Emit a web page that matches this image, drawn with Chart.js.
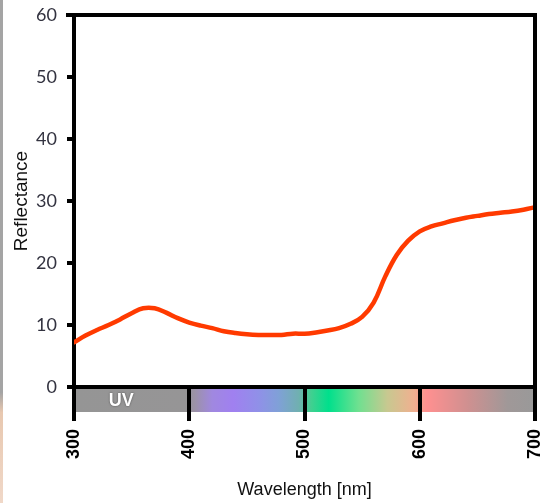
<!DOCTYPE html>
<html>
<head>
<meta charset="utf-8">
<script src="https://cdn.jsdelivr.net/npm/chart.js@4"></script>
<style>
  html, body { margin: 0; padding: 0; background: #fff; }
  #wrap { position: relative; width: 552px; height: 503px; }
  #edge { position: absolute; left: 0; top: 0; width: 3px; height: 503px;
          background: linear-gradient(#a4a4a4 0%, #a4a4a4 78%, #e8c8b0 82%, #f0d8c8 100%); }
</style>
</head>
<body>
<div id="wrap">
  <canvas id="reflectanceChart" width="552" height="503"></canvas>
  <div id="edge"></div>
</div>
<script>
// Wavelengths (nm) and reflectance
const wavelengths = [300, 310, 320, 330, 340, 350, 360, 370, 380, 390,
                     400, 410, 420, 430, 440, 450, 460, 470, 480, 490,
                     500, 510, 520, 530, 540, 550, 560, 570, 580, 590,
                     600, 610, 620, 630, 640, 650, 660, 670, 680, 690, 700];
const reflectance = [7.2, 8.3, 9.2, 10.0, 10.9, 11.9, 12.7, 12.7, 12.0, 11.1,
                     10.4, 9.9, 9.5, 9.0, 8.7, 8.5, 8.4, 8.4, 8.4, 8.6,
                     8.6, 8.8, 9.1, 9.5, 10.2, 11.3, 13.6, 17.8, 21.3, 23.6,
                     25.1, 25.9, 26.4, 26.9, 27.3, 27.6, 27.9, 28.1, 28.3, 28.6, 29.0];

const xTicks = [300, 400, 500, 600, 700];
const yTicks = [0, 10, 20, 30, 40, 50, 60];

// colour band under the axis: wavelength -> colour
const bandStops = [300, 398, 405, 420, 438, 460, 477, 495, 506, 521, 547, 572, 595, 606, 641, 676, 700];
const bandColors = ['#959595', '#969596', '#9c92a8', '#a088e0', '#a080f0', '#9090e8', '#80a0d8',
                    '#70b0b0', '#40d090', '#00e08c', '#70e090', '#c8c890', '#f0b090', '#ff9090',
                    '#d09090', '#a09898', '#999999'];
const bandLabel = 'UV';
const bandLabelAt = 341;

// frame + spectrum band
const framePlugin = {
    id: 'frame',
    beforeDraw(chart) {
        const ctx = chart.ctx;
        const xs = chart.scales.x;
        const x0 = xs.getPixelForValue(300);
        const x1 = xs.getPixelForValue(700);
        const top = chart.chartArea.bottom;
        const grad = ctx.createLinearGradient(x0, 0, x1, 0);
        bandStops.forEach((w, i) => {
            grad.addColorStop((w - 300) / 400, bandColors[i]);
        });
        ctx.save();
        ctx.fillStyle = grad;
        ctx.fillRect(x0, top, x1 - x0, 412 - top);
        ctx.restore();
    },
    afterDraw(chart) {
        const ctx = chart.ctx;
        const area = chart.chartArea;
        const xs = chart.scales.x;
        ctx.save();
        ctx.strokeStyle = '#000';
        ctx.lineWidth = 4;
        ctx.beginPath();
        ctx.moveTo(area.left - 8, area.top);
        ctx.lineTo(area.right + 2, area.top);
        ctx.moveTo(area.right, area.top);
        ctx.lineTo(area.right, area.bottom);
        ctx.stroke();

        ctx.font = 'bold 18px "Liberation Sans", Arial, sans-serif';
        ctx.textAlign = 'center';
        ctx.textBaseline = 'middle';
        ctx.shadowColor = 'rgba(0,0,0,0.55)';
        ctx.shadowBlur = 2;
        ctx.fillStyle = '#fff';
        ctx.fillText(bandLabel, xs.getPixelForValue(bandLabelAt), 401);
        ctx.restore();
    }
};

Chart.defaults.font.family = '"Liberation Sans", Arial, sans-serif';
Chart.defaults.color = '#000';

const ctx = document.getElementById('reflectanceChart').getContext('2d');
const reflectanceChart = new Chart(ctx, {
    type: 'line',
    data: {
        datasets: [{
            label: 'Reflectance',
            data: wavelengths.map((w, i) => ({ x: w, y: reflectance[i] })),
            borderColor: '#ff3a00',
            borderWidth: 4.5,
            pointRadius: 0,
            fill: false,
            tension: 0.4,
            borderCapStyle: 'round'
        }]
    },
    options: {
        responsive: false,
        animation: false,
        layout: { padding: { top: 15, right: 17, left: 0, bottom: 0 } },
        plugins: {
            legend: { display: false },
            tooltip: { enabled: false }
        },
        scales: {
            x: {
                type: 'linear',
                min: 300,
                max: 700,
                afterFit(scale) {
                    scale.height = 116;
                    scale.paddingLeft = 0;
                    scale.paddingRight = 0;
                },
                afterBuildTicks(scale) { scale.ticks = xTicks.map(v => ({ value: v })); },
                grid: {
                    drawOnChartArea: false,
                    color: '#000',
                    lineWidth: 4,
                    tickLength: 34
                },
                border: { color: '#000', width: 4 },
                ticks: {
                    autoSkip: false,
                    minRotation: 90,
                    maxRotation: 90,
                    padding: 8,
                    color: '#000',
                    font: { size: 18, weight: 'bold' }
                },
                title: {
                    display: true,
                    text: 'Wavelength [nm]',
                    color: '#111',
                    font: { size: 18 },
                    padding: { top: 0, bottom: 2 }
                }
            },
            y: {
                min: 0,
                max: 60,
                afterFit(scale) {
                    scale.width = 74;
                    scale.paddingTop = 0;
                    scale.paddingBottom = 0;
                },
                afterBuildTicks(scale) { scale.ticks = yTicks.map(v => ({ value: v })); },
                grid: {
                    drawOnChartArea: false,
                    color: '#000',
                    lineWidth: 4,
                    tickLength: 7
                },
                border: { color: '#000', width: 4 },
                ticks: {
                    padding: 10,
                    color: '#333340',
                    font: { family: 'Lato, "Open Sans", sans-serif', size: 18 }
                },
                title: {
                    display: true,
                    text: 'Reflectance',
                    color: '#111',
                    font: { size: 19 },
                    padding: { top: 10, bottom: 0 }
                }
            }
        }
    },
    plugins: [framePlugin]
});
</script>
</body>
</html>
